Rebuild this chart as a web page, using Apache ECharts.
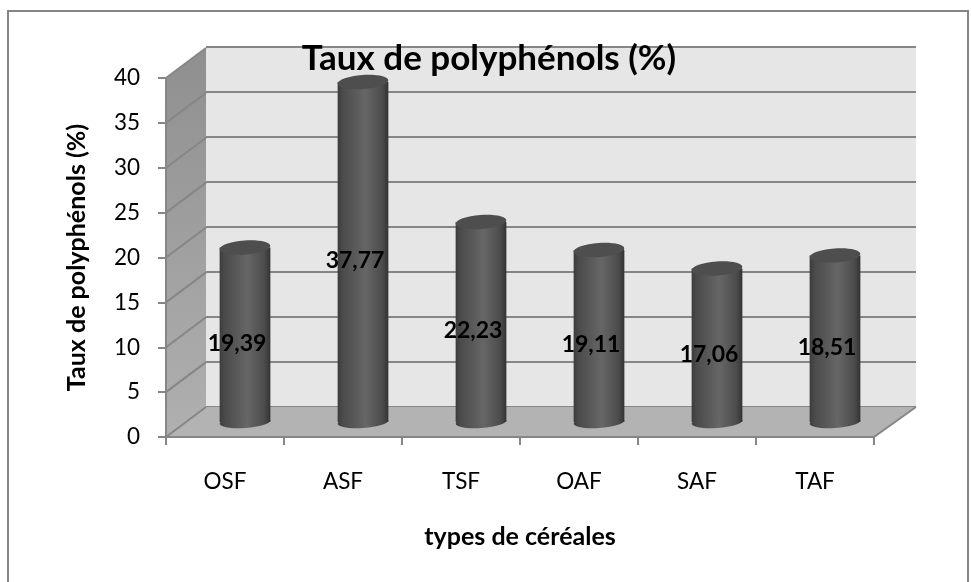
<!DOCTYPE html>
<html>
<head>
<meta charset="utf-8">
<title>Taux de polyphénols</title>
<style>
html, body { margin: 0; padding: 0; background: #fff; }
#main { width: 971px; height: 582px; }
</style>
<script src="https://cdn.jsdelivr.net/npm/echarts@6/dist/echarts.min.js"></script>
</head>
<body>
<div id="main"></div>
<script>
var categories = ['OSF', 'ASF', 'TSF', 'OAF', 'SAF', 'TAF'];
var values = [19.39, 37.77, 22.23, 19.11, 17.06, 18.51];
var yTicks = [0, 5, 10, 15, 20, 25, 30, 35, 40];

var chartTitle = 'Taux de polyphénols (%)';
var yName = 'Taux de polyphénols (%)';
var xName = 'types de céréales';

var font = 'Lato';
var lineColor = '#868686';

// how far the back wall sits behind the front axes
var depthX = 40;
var depthY = -30;

var myChart = echarts.init(document.getElementById('main'));

function cylinderFill() {
    return new echarts.graphic.LinearGradient(0, 0, 1, 0, [
        {offset: 0, color: '#3c3c3c'},
        {offset: 0.1, color: '#4b4b4b'},
        {offset: 0.55, color: '#666666'},
        {offset: 0.88, color: '#4c4c4c'},
        {offset: 1, color: '#333333'}
    ]);
}

var renderWalls = function (params, api) {
    var box = params.coordSys;
    var y = api.coord([0, api.value(1)])[1];
    var left = box.x;
    var right = box.x + box.width;
    var bottom = box.y + box.height;
    var children = [];
    if (params.dataIndex === 0) {
        children.push({
            type: 'polygon',
            shape: {points: [[left, box.y], [left + depthX, box.y + depthY], [left + depthX, bottom + depthY], [left, bottom]]},
            style: {fill: new echarts.graphic.LinearGradient(0, 0, 0, 1, [
                {offset: 0, color: '#8f8f8f'},
                {offset: 1, color: '#b0b0b0'}
            ])}
        });
        children.push({
            type: 'polygon',
            shape: {points: [[left, bottom], [left + depthX, bottom + depthY], [right + depthX + 2, bottom + depthY], [right, bottom]]},
            style: {fill: '#b3b3b3'}
        });
        children.push({
            type: 'line',
            shape: {x1: right, y1: bottom, x2: right + depthX + 2, y2: bottom + depthY},
            style: {stroke: lineColor, lineWidth: 2}
        });
    }
    children.push({
        type: 'line',
        shape: {x1: left, y1: y, x2: left + depthX, y2: y + depthY},
        style: {stroke: lineColor, lineWidth: 2}
    });
    return {type: 'group', children: children};
};

var renderCylinder = function (params, api) {
    var i = api.value(0);
    var v = api.value(1);
    var top = api.coord([i, v]);
    var base = api.coord([i, 0]);
    var half = api.size([1, 0])[0] * 0.215;
    var mid = api.coord([i, v / 2]);
    return {
        type: 'group',
        children: [
            {
                type: 'ellipse',
                x: base[0], y: base[1], rotation: 0.07,
                shape: {cx: 0, cy: 0, rx: half, ry: 6},
                style: {fill: cylinderFill()}
            },
            {
                type: 'rect',
                shape: {x: top[0] - half, y: top[1], width: half * 2, height: base[1] - top[1]},
                style: {fill: cylinderFill()}
            },
            {
                type: 'ellipse',
                x: top[0], y: top[1], rotation: 0.07,
                shape: {cx: 0, cy: 0, rx: half, ry: 7},
                style: {fill: '#4e4e4e'}
            },
            {
                type: 'text',
                x: mid[0] - 8, y: mid[1] + 9,
                style: {
                    text: api.value(1).toFixed(2).replace('.', ','),
                    fill: '#000', font: 'bold 23px ' + font,
                    align: 'center', verticalAlign: 'middle'
                }
            }
        ]
    };
};

option = {
    animation: false,
    backgroundColor: '#fff',
    textStyle: {fontFamily: font},
    title: {
        text: chartTitle,
        left: 484,
        top: 36,
        textAlign: 'center',
        textStyle: {fontSize: 35, fontWeight: 'bold', color: '#000', fontFamily: font}
    },
    graphic: [
        {
            type: 'polyline',
            shape: {points: [[8, 582], [8, 11], [968, 11], [968, 582]]},
            style: {stroke: lineColor, lineWidth: 2, fill: null}
        }
    ],
    grid: [
        // front axes
        {left: 166, top: 78, width: 708, height: 359},
        // back wall
        {left: 206, top: 47, width: 710, height: 360, show: true, backgroundColor: '#e6e6e6', borderWidth: 0},
        // plane the cylinders stand on
        {left: 186, top: 62, width: 708, height: 360}
    ],
    xAxis: [
        {
            type: 'category', gridIndex: 0, data: categories, z: 2,
            name: xName, nameLocation: 'middle', nameGap: 87,
            nameTextStyle: {fontSize: 25, fontWeight: 'bold', color: '#000'},
            axisLine: {lineStyle: {color: lineColor, width: 2}},
            axisTick: {show: true, length: 8, lineStyle: {color: lineColor, width: 2}},
            axisLabel: {fontSize: 22.5, color: '#000', margin: 33}
        },
        {type: 'category', gridIndex: 1, data: categories, show: false},
        {type: 'category', gridIndex: 2, data: categories, show: false}
    ],
    yAxis: [
        {
            type: 'value', gridIndex: 0, min: 0, max: 40, interval: 5, z: 2,
            name: yName, nameLocation: 'middle', nameGap: 77,
            nameTextStyle: {fontSize: 25, fontWeight: 'bold', color: '#000'},
            axisLine: {show: true, lineStyle: {color: lineColor, width: 2}},
            axisTick: {show: true, length: 8, lineStyle: {color: lineColor, width: 2}},
            axisLabel: {fontSize: 22.5, color: '#000', margin: 26},
            splitLine: {show: false}
        },
        {
            type: 'value', gridIndex: 1, min: 0, max: 40, interval: 5,
            axisLine: {show: false}, axisTick: {show: false}, axisLabel: {show: false},
            splitLine: {show: true, lineStyle: {color: lineColor, width: 2}}
        },
        {
            type: 'value', gridIndex: 2, min: 0, max: 40, interval: 5,
            axisLine: {show: false}, axisTick: {show: false}, axisLabel: {show: false},
            splitLine: {show: false}
        }
    ],
    series: [
        {
            name: 'parois',
            type: 'custom',
            xAxisIndex: 0,
            yAxisIndex: 0,
            z: 1,
            clip: false,
            silent: true,
            renderItem: renderWalls,
            data: yTicks.map(function (t) { return [0, t]; })
        },
        {
            name: yName,
            type: 'custom',
            xAxisIndex: 2,
            yAxisIndex: 2,
            z: 3,
            clip: false,
            renderItem: renderCylinder,
            data: values.map(function (v, i) { return [i, v]; })
        }
    ]
};

myChart.setOption(option);
</script>
</body>
</html>
